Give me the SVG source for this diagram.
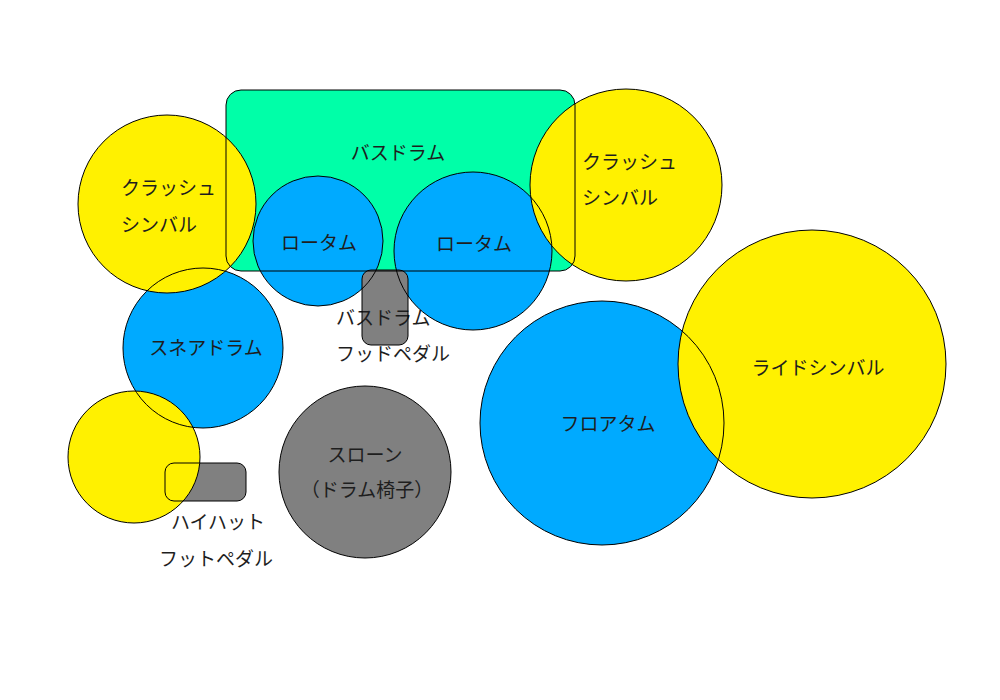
<svg xmlns="http://www.w3.org/2000/svg" xmlns:xlink="http://www.w3.org/1999/xlink" width="1000" height="700" viewBox="0 0 1000 700">
<style>
.yellow{fill:#FFF100}
.blue{fill:#00AAFF}
.green{fill:#00FFA8}
.gray{fill:#808080}
text{font-family:"Noto Sans CJK JP","Noto Sans CJK SC",sans-serif;font-size:19px;fill:#1e1e1e}
.c{text-anchor:middle}
.outline{fill:none;stroke:#000;stroke-width:1}
</style>
<rect width="1000" height="700" fill="#fff"/>
<g id="bass-drum" class="green">
<rect id="s-bass" x="226" y="90" width="349" height="181" rx="15"/>
<text class="c" x="398" y="160">バスドラム</text>
</g>
<g id="snare" class="blue">
<circle id="s-snare" cx="203" cy="348" r="80"/>
<text class="c" x="206" y="355">スネアドラム</text>
</g>
<g id="rototom-left" class="blue">
<circle id="s-rotoL" cx="318" cy="241" r="65"/>
<text class="c" x="319" y="250">ロータム</text>
</g>
<g id="rototom-right" class="blue">
<circle id="s-rotoR" cx="473" cy="251" r="79"/>
<text class="c" x="474" y="251">ロータム</text>
</g>
<g id="bass-pedal" class="gray">
<rect id="s-bpedal" x="362" y="270" width="46" height="75" rx="9"/>
<text x="336" y="325">バスドラム</text>
<text x="336" y="361">フッドペダル</text>
</g>
<g id="crash-left" class="yellow">
<circle id="s-crashL" cx="167" cy="204" r="89"/>
<text x="121" y="195">クラッシュ</text>
<text x="121" y="232">シンバル</text>
</g>
<g id="crash-right" class="yellow">
<circle id="s-crashR" cx="626" cy="185" r="96"/>
<text x="582" y="169">クラッシュ</text>
<text x="582" y="205">シンバル</text>
</g>
<g id="hihat-pedal" class="gray">
<rect id="s-hpedal" x="165" y="463" width="81" height="38" rx="9"/>
<text class="c" x="218" y="529">ハイハット</text>
<text class="c" x="216" y="566">フットペダル</text>
</g>
<g id="hihat" class="yellow">
<circle id="s-hihat" cx="134" cy="457" r="66"/>
</g>
<g id="throne" class="gray">
<circle id="s-throne" cx="365" cy="472" r="86"/>
<text class="c" x="365" y="462">スローン</text>
<text class="c" x="367" y="497">（ドラム椅子）</text>
</g>
<g id="floor-tom" class="blue">
<circle id="s-floor" cx="602" cy="423" r="122"/>
<text class="c" x="608" y="431">フロアタム</text>
</g>
<g id="ride" class="yellow">
<circle id="s-ride" cx="812" cy="364" r="134"/>
<text class="c" x="818" y="375">ライドシンバル</text>
</g>
<g id="outlines" class="outline">
<use xlink:href="#s-bass"/>
<use xlink:href="#s-snare"/>
<use xlink:href="#s-rotoL"/>
<use xlink:href="#s-rotoR"/>
<use xlink:href="#s-bpedal"/>
<use xlink:href="#s-crashL"/>
<use xlink:href="#s-crashR"/>
<use xlink:href="#s-hpedal"/>
<use xlink:href="#s-hihat"/>
<use xlink:href="#s-throne"/>
<use xlink:href="#s-floor"/>
<use xlink:href="#s-ride"/>
</g>
</svg>
